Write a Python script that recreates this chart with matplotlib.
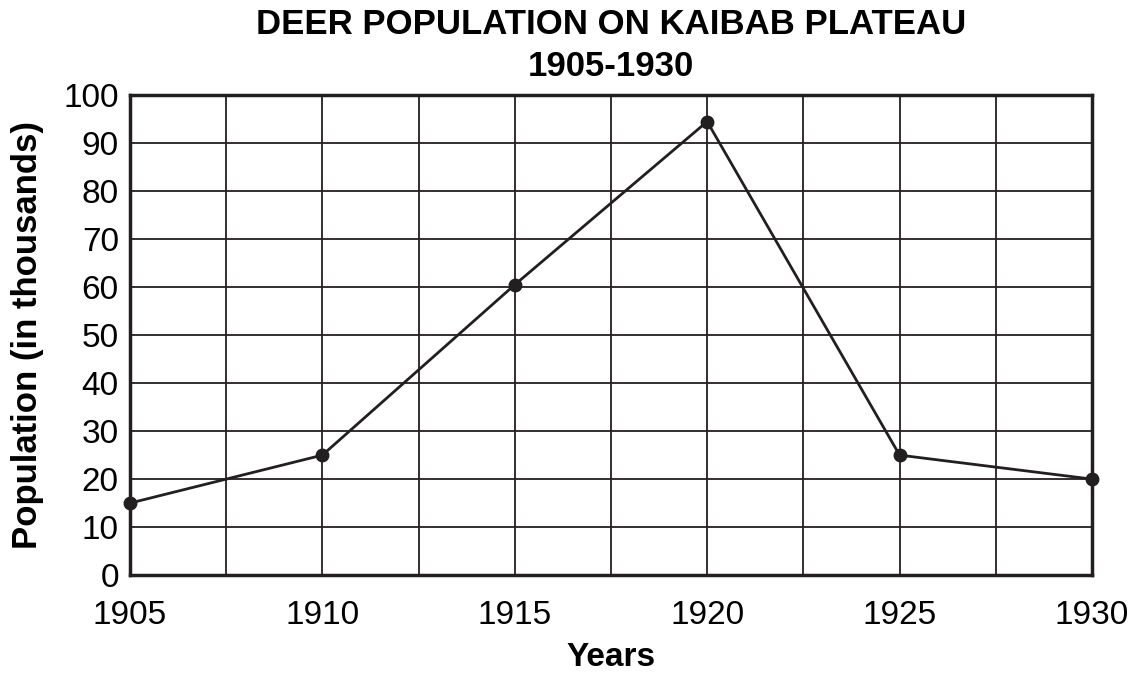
import numpy as np
import matplotlib.pyplot as plt

# data
years = [1905, 1910, 1915, 1920, 1925, 1930]
population = [15, 25, 60.5, 94.5, 25, 20]
x_ticks = [1905, 1910, 1915, 1920, 1925, 1930]
y_ticks = list(range(0, 101, 10))

plt.rcParams['font.family'] = ['Liberation Sans', 'DejaVu Sans']

fig = plt.figure(figsize=(11.31, 6.75), dpi=100)
ax = fig.add_axes([0.1149, 0.148, 0.8506, 0.711])

ax.plot(years, population, color='#231f20', linewidth=2, marker='o', markersize=9, zorder=3, clip_on=False)

ax.set_xlim(1905, 1930)
ax.set_ylim(0, 100)
ax.set_xticks(x_ticks)
ax.set_xticks(np.arange(1905, 1930.1, 2.5), minor=True)
ax.set_yticks(y_ticks)
ax.grid(True, which='both', color='#231f20', linewidth=1.3)
ax.tick_params(which='both', length=0, labelsize=24)
ax.tick_params(axis='x', pad=18)
ax.tick_params(axis='y', pad=8)
for s in ax.spines.values():
    s.set_linewidth(2.5)
    s.set_color('#231f20')

ax.set_title('DEER POPULATION ON KAIBAB PLATEAU\n1905-1930', fontsize=25, fontweight='bold', linespacing=1.35, pad=14)
ax.set_xlabel('Years', fontsize=24, fontweight='bold', labelpad=8)
ax.set_ylabel('Population (in thousands)', fontsize=25, fontweight='bold', labelpad=14)

fig.savefig('out.png', dpi=100)
